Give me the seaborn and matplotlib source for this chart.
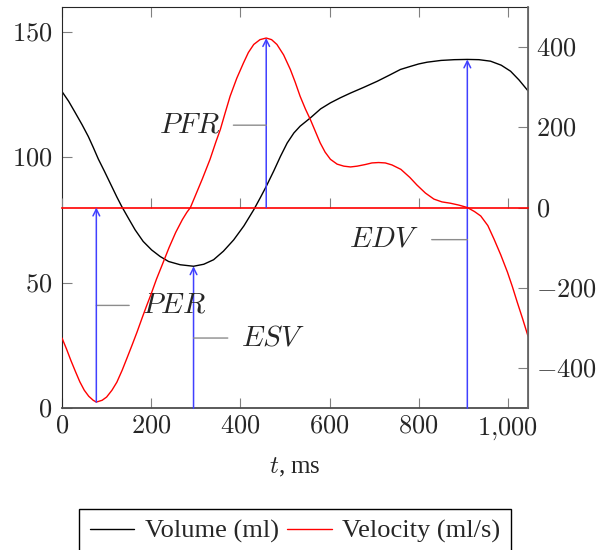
import matplotlib
matplotlib.use('Agg')
import matplotlib.pyplot as plt
import seaborn as sns
import numpy as np
from matplotlib.ticker import FuncFormatter

# volume curve (left axis), t in ms
vol_t = [0, 15, 29, 45, 59, 70, 81.5, 95, 111.6, 123, 134, 150, 164, 182, 201, 220,
         239, 265, 295, 318, 340, 362, 385, 408, 430, 445, 458, 475, 490, 505, 520,
         534, 557, 580, 602, 624, 647, 677, 707, 735, 759, 781, 800, 819, 850, 880,
         909, 935, 961, 985, 1006, 1025, 1045]
vol = [126.2, 122.3, 118, 113, 108.3, 104, 99.3, 94.5, 88.4, 84.2, 80.4, 75.4,
       71.1, 66.5, 63.1, 60.5, 58.5, 57.2, 56.6, 57.4, 59.2, 62.6, 67.1, 72.7, 79.1,
       84, 88.4, 94.6, 100.4, 105.7, 109.7, 112.4, 115.7, 119.3, 121.7, 123.7, 125.6,
       127.9, 130.3, 132.8, 135, 136.2, 137.2, 137.9, 138.6, 138.9, 139, 138.9, 138.3,
       136.7, 134.3, 130.8, 126.5]

# velocity curve (right axis)
vel_t = [0, 10, 20, 30, 40, 50, 60, 70, 77, 90, 100, 112, 123, 135, 145, 157, 168,
         180, 190, 200, 212, 225, 240, 255, 270, 280, 288, 300, 315, 332, 345, 355,
         366, 377, 392, 407, 418, 430, 444, 458, 470, 482, 497, 512, 523, 534, 546,
         557, 568, 579, 590, 602, 617, 632, 647, 662, 680, 695, 710, 725, 740, 760,
         780, 796, 815, 834, 852, 871, 890, 909, 925, 939, 955, 969, 984, 999, 1010,
         1021, 1033, 1045]
vel = [-325, -352, -381, -408, -434, -455, -470, -480, -484.5, -480, -472, -455,
       -435, -405, -377, -343, -311, -274, -244, -215, -178, -142, -100, -62, -30,
       -12, 0, 32, 72, 120, 163, 194, 236, 277, 322, 360, 386, 406, 418, 422, 418,
       406, 380, 344, 312, 277, 245, 219, 190, 161, 138, 120, 108, 103, 101, 103,
       107, 111, 112, 111, 106, 95, 75, 56, 36, 21, 14, 10.7, 6, 0, -10, -21, -45,
       -79, -118, -161, -197, -236, -277, -320]

# height of the label pins
per_pin = 41    # ml
esv_pin = 28    # ml
pfr_pin = 205   # ml/s
edv_pin = -80   # ml/s

sns.set_style('ticks')
plt.rcParams['font.family'] = ['Liberation Serif', 'DejaVu Serif']
plt.rcParams['mathtext.fontset'] = 'cm'

fig = plt.figure(figsize=(6.12, 5.5), dpi=100)
ax = fig.add_axes([0.1013, 0.2576, 0.7614, 0.7302])
ax2 = ax.twinx()

sns.lineplot(x=vol_t, y=vol, ax=ax, color='black', lw=1, label='Volume (ml)', legend=False)
sns.lineplot(x=vel_t, y=vel, ax=ax2, color='red', lw=1, label='Velocity (ml/s)', legend=False)

ax.set_xlim(0, 1045)
ax.set_ylim(0, 160)
ax2.set_ylim(-500, 500)
ax.set_xticks(range(0, 1001, 200))
ax.set_yticks([0, 50, 100, 150])
ax2.set_yticks([-400, -200, 0, 200, 400])

fmt = FuncFormatter(lambda v, p: '$' + f'{v:,.0f}'.replace(',', '{,}') + '$')
ax.xaxis.set_major_formatter(fmt)
ax.yaxis.set_major_formatter(fmt)
ax2.yaxis.set_major_formatter(fmt)

ax.tick_params(axis='x', direction='in', top=True, bottom=True, length=7.5,
               labelsize=19, pad=5, color='0.5')
ax.tick_params(axis='y', direction='in', left=True, right=False, length=7.5,
               labelsize=19, pad=7, color='0.5')
ax2.tick_params(axis='y', direction='in', length=7.5, labelsize=19, pad=6, color='0.5')

# second x axis sits on zero velocity
ax2.xaxis.set_visible(True)
ax2.tick_params(axis='x', bottom=True, top=False, labelbottom=False, labeltop=False,
                direction='in', length=7.5, color='0.5')
ax2.spines['bottom'].set_position(('data', 0))
ax2.spines['bottom'].set_color('red')
ax2.spines['bottom'].set_linewidth(1.2)
for s in ['left', 'top']:
    ax2.spines[s].set_visible(False)
ax2.spines['right'].set_color('0.4')
ax2.spines['right'].set_linewidth(1.3)
ax.spines['right'].set_color('0.4')
ax.spines['bottom'].set_color('0.3')
ax.spines['bottom'].set_linewidth(1.3)
ax.set_ylabel('')
ax2.set_ylabel('')

ax.set_xlabel('$t$, ms', fontsize=18, labelpad=10)

arrow_kw = dict(arrowstyle='->', color=(0.25, 0.25, 1), lw=1.1, shrinkA=0, shrinkB=0,
                mutation_scale=12)
i = int(np.argmin(vel))
ax2.annotate('', xy=(vel_t[i], 0), xytext=(vel_t[i], vel[i]), arrowprops=arrow_kw)
k = int(np.argmax(vel))
ax2.annotate('', xy=(vel_t[k], vel[k]), xytext=(vel_t[k], 0), arrowprops=arrow_kw)
j = int(np.argmin(vol))
ax.annotate('', xy=(vol_t[j], vol[j]), xytext=(vol_t[j], 0), arrowprops=arrow_kw)
m = int(np.argmax(vol))
ax.annotate('', xy=(vol_t[m], vol[m]), xytext=(vol_t[m], 0), arrowprops=arrow_kw)

pin_kw = dict(textcoords='offset points', va='center', fontsize=21)
ax.annotate('$PER$', xy=(vel_t[i], per_pin), xytext=(33, 0), ha='left',
            arrowprops=dict(arrowstyle='-', color='0.55', lw=1, shrinkA=7, shrinkB=0,
                            relpos=(0, 0.5)), **pin_kw)
ax.annotate('$ESV$', xy=(vol_t[j], esv_pin), xytext=(34, 0), ha='left',
            arrowprops=dict(arrowstyle='-', color='0.55', lw=1, shrinkA=7, shrinkB=0,
                            relpos=(0, 0.5)), **pin_kw)
ax2.annotate('$PFR$', xy=(vel_t[k], pfr_pin), xytext=(-33, 0), ha='right',
             arrowprops=dict(arrowstyle='-', color='0.55', lw=1, shrinkA=7, shrinkB=0,
                             relpos=(1, 0.5)), **pin_kw)
ax2.annotate('$EDV$', xy=(vol_t[m], edv_pin), xytext=(-35, 0), ha='right',
             arrowprops=dict(arrowstyle='-', color='0.55', lw=1, shrinkA=7, shrinkB=0,
                             relpos=(1, 0.5)), **pin_kw)

h1, l1 = ax.get_legend_handles_labels()
h2, l2 = ax2.get_legend_handles_labels()
fig.legend(h1 + h2, l1 + l2, loc='upper center', bbox_to_anchor=(0.482, 0.0745), ncol=2,
           frameon=True, fancybox=False, edgecolor='black', framealpha=1, fontsize=19,
           handlelength=1.7, columnspacing=0.3, handletextpad=0.4, borderpad=0.4,
           borderaxespad=0)

fig.savefig('out.png', dpi=100)
